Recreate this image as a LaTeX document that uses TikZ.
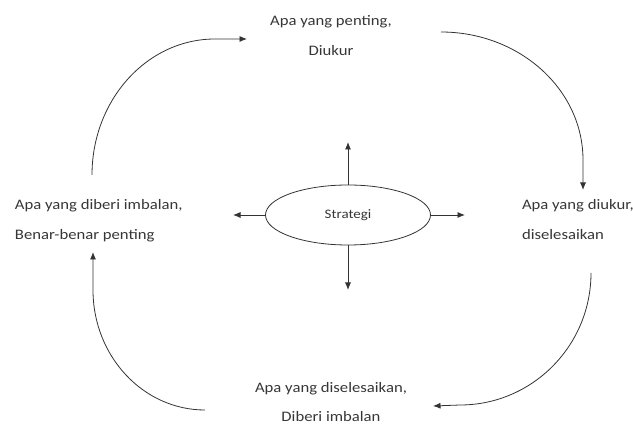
\documentclass[tikz,border=0pt]{standalone}
\usepackage{fontspec}
\setmainfont{Carlito}[FakeStretch=1.15]
\usetikzlibrary{arrows.meta,shapes.geometric,decorations.pathmorphing}
\definecolor{ink}{HTML}{333333}
\definecolor{txtc}{HTML}{363636}
\definecolor{spellc}{HTML}{5E9E52}
\newlength\apaw
\begin{document}
\begin{tikzpicture}[x=1pt,y=-1pt,
  txt/.style={inner sep=0pt, outer sep=0pt, text=txtc, font=\fontsize{14.5}{17}\selectfont},
  conn/.style={draw=ink, line width=0.8pt, -{Latex[length=7.5pt,width=6pt]}},
  spell/.style={draw=spellc, line width=0.6pt, decorate, decoration={snake, amplitude=0.7pt, segment length=2.5pt}},
  stratbox/.style={draw=ink, line width=0.8pt, ellipse, minimum width=165pt, minimum height=60pt, inner sep=0pt, text=txtc, font=\fontsize{13}{15}\selectfont}]
\useasboundingbox (0,0) rectangle (633,427);
\settowidth\apaw{\fontsize{14.5}{17}\selectfont Apa}
% texts
\node[txt, anchor=base] (top1) at (331,26) {Apa yang penting,};
\node[txt, anchor=base] (top2) at (331,56) {Diukur};
\node[txt, anchor=base west] (left1) at (15,210) {Apa yang diberi imbalan,};
\node[txt, anchor=base west] (left2) at (15,240) {Benar-benar penting};
\node[txt, anchor=base west] (right1) at (522,210) {Apa yang diukur,};
\node[txt, anchor=base west] (right2) at (522,240) {diselesaikan};
\node[txt, anchor=base] (bot1) at (331,393) {Apa yang diselesaikan,};
\node[txt, anchor=base] (bot2) at (331,422) {Diberi imbalan};
% spell-check marks
\draw[spell] ([yshift=-2pt]top1.base west) -- ++(\apaw,0pt);
\draw[spell] ([yshift=-2pt]left1.base west) -- ++(\apaw,0pt);
\draw[spell] ([yshift=-2pt]bot1.base west) -- ++(\apaw,0pt);
% centre
\node[stratbox] (strat) at (348,215) {Strategi};
\coordinate (up) at (348,142);
\coordinate (down) at (348,290);
\coordinate (lt) at (233,215);
\coordinate (rt) at (465,215);
\draw[conn] (strat.north) -- (up);
\draw[conn] (strat.south) -- (down);
\draw[conn] (strat.west) -- (lt);
\draw[conn] (strat.east) -- (rt);
% cycle arcs
\coordinate (a1s) at (92,175);  \coordinate (a1e) at (247,39);
\coordinate (a2s) at (441,32);  \coordinate (a2e) at (583,190);
\coordinate (a3s) at (591,273); \coordinate (a3e) at (433,406);
\coordinate (a4s) at (205,410); \coordinate (a4e) at (93,252);
\draw[conn] (a1s) .. controls (92,100) and (147,39) .. (215,39) -- (a1e);
\draw[conn] (a2s) .. controls (519,32) and (583,89) .. (583,160) -- (a2e);
\draw[conn] (a3s) .. controls (591,346) and (532,405) .. (460,405) -- (a3e);
\draw[conn] (a4s) .. controls (143,410) and (93,356) .. (93,290) -- (a4e);
\end{tikzpicture}
\end{document}
